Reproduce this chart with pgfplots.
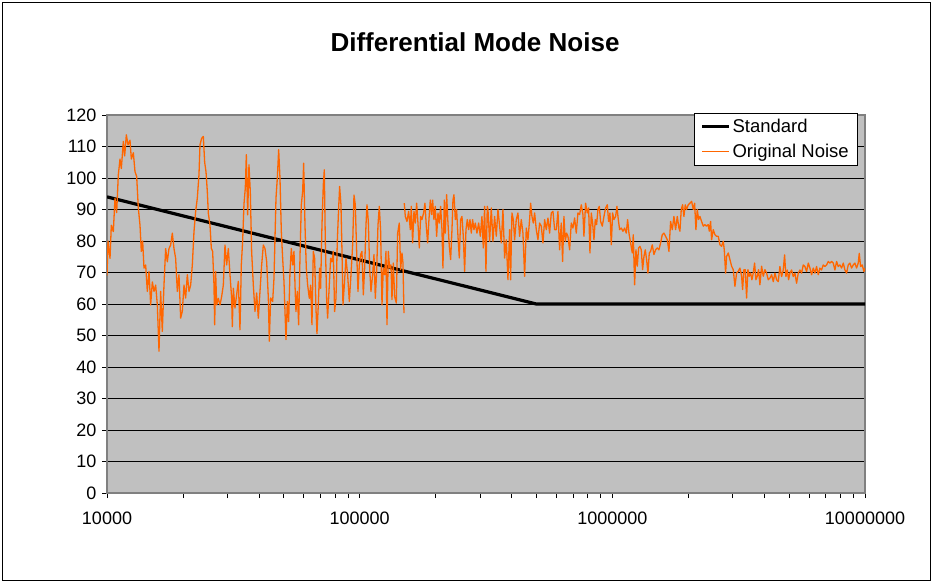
\documentclass[border=0pt]{standalone}
\usepackage{fontspec}
\setmainfont{Liberation Sans}
\usepackage{pgfplots}
\usepackage{pgfplotstable}
\pgfplotsset{compat=1.18}
\definecolor{noise}{HTML}{FF6600}
\definecolor{plotbg}{HTML}{C0C0C0}
\definecolor{axisgray}{HTML}{808080}

% log10(frequency in Hz), level
\pgfplotstableread{
lf val
4.0000 69
4.0039 80
4.0119 74.5
4.0171 85
4.0250 83
4.0316 93.6
4.0382 89
4.0448 101
4.0514 106
4.0567 103
4.0646 111.6
4.0699 107
4.0765 113.7
4.0831 110.5
4.0910 112
4.0963 106
4.1042 108
4.1108 102
4.1174 100.5
4.1240 90.4
4.1306 85
4.1358 76.7
4.1411 80
4.1464 71.4
4.1530 72.4
4.1596 64
4.1662 70.3
4.1728 59.7
4.1794 67
4.1860 64
4.1926 66
4.1992 59.7
4.2058 45
4.2123 64
4.2189 51.3
4.2255 66
4.2321 77.6
4.2387 73.4
4.2453 77.6
4.2519 78.7
4.2585 82.5
4.2651 77.6
4.2717 74.5
4.2783 64
4.2849 69.3
4.2915 55.5
4.2981 57.6
4.3047 66
4.3113 61.9
4.3179 69.3
4.3245 64
4.3311 66
4.3377 72.4
4.3443 83
4.3509 89.4
4.3574 93.6
4.3640 101
4.3680 110.5
4.3746 112.6
4.3812 113.2
4.3865 105
4.3918 102
4.3970 95.7
4.4010 88.8
4.4076 85
4.4129 77.7
4.4181 76.7
4.4234 66
4.4261 53.4
4.4300 70.3
4.4340 59.7
4.4406 61.8
4.4472 59.7
4.4538 62.4
4.4604 66
4.4670 78.7
4.4736 72.4
4.4802 77.6
4.4868 69.3
4.4934 61.8
4.4960 52.8
4.5000 65
4.5065 58.7
4.5131 62.9
4.5197 67.2
4.5263 51.8
4.5316 72.4
4.5369 80
4.5421 91.7
4.5474 96.8
4.5514 107.4
4.5567 88.3
4.5619 104.2
4.5672 95.7
4.5725 76.7
4.5791 66
4.5857 57.6
4.5923 63.5
4.5989 55.5
4.6055 64
4.6121 72.4
4.6187 78.7
4.6253 77.6
4.6319 73.4
4.6385 61.9
4.6424 48.2
4.6477 61.9
4.6556 60.8
4.6609 68.2
4.6688 93.6
4.6741 100
4.6794 109
4.6846 100
4.6899 83
4.6952 74.5
4.7005 67
4.7044 57.6
4.7084 48.7
4.7137 60.8
4.7189 54.4
4.7242 70.3
4.7295 77.6
4.7348 72.4
4.7400 76.7
4.7453 62.9
4.7479 57.6
4.7532 64
4.7585 53.4
4.7637 74.5
4.7690 91.5
4.7743 95.7
4.7783 104.7
4.7836 85
4.7888 71.4
4.7941 66
4.8007 61.8
4.8060 66
4.8112 53.4
4.8165 76.7
4.8218 74.5
4.8271 58.6
4.8310 50.6
4.8363 59.7
4.8416 71.4
4.8455 65
4.8508 85
4.8561 97.8
4.8600 102.6
4.8640 80
4.8693 61.8
4.8732 55.5
4.8798 66
4.8851 74.5
4.8904 73.4
4.8957 76.7
4.9009 57.6
4.9062 61.8
4.9115 80
4.9168 90.5
4.9207 97.3
4.9260 91.5
4.9300 76.7
4.9339 59.7
4.9392 66
4.9458 74.5
4.9524 69.3
4.9590 60.8
4.9656 69.3
4.9722 78.7
4.9775 94.6
4.9827 91.5
4.9880 76.7
4.9933 64
4.9986 72.4
5.0038 75.7
5.0091 76.7
5.0144 62.9
5.0197 71.4
5.0249 85
5.0289 91.5
5.0342 86.2
5.0395 71.4
5.0447 64
5.0513 69.3
5.0566 75.7
5.0619 61.8
5.0672 70.3
5.0724 85
5.0777 91
5.0830 83
5.0883 59.7
5.0935 71.4
5.0988 69.3
5.1041 76.7
5.1081 53.4
5.1133 76.7
5.1186 71.4
5.1239 72.4
5.1278 61.4
5.1331 73
5.1384 62.4
5.1450 60.3
5.1503 82.5
5.1568 85.7
5.1621 70.9
5.1674 76.2
5.1714 73
5.1753 57.1
}\noiseA

\pgfplotstableread{
lf val
5.1766 92
5.1806 87.8
5.1872 86.2
5.1938 89.4
5.2004 83.6
5.2043 91
5.2096 79.4
5.2149 89.4
5.2202 85.7
5.2254 92
5.2307 85.7
5.2360 77.8
5.2413 87.8
5.2465 86.8
5.2531 88.9
5.2584 92
5.2637 84.7
5.2690 79.4
5.2742 86.8
5.2795 93
5.2848 88.4
5.2888 93
5.2940 86.8
5.2993 91
5.3046 81.5
5.3099 88.9
5.3151 85.7
5.3204 91
5.3257 83.6
5.3296 71.4
5.3349 93
5.3389 82.5
5.3442 94.7
5.3494 85.7
5.3547 78.3
5.3600 74.1
5.3653 83.6
5.3692 93
5.3732 94.7
5.3785 86.8
5.3837 90
5.3890 81.5
5.3943 74.6
5.3996 86.8
5.4048 87.8
5.4101 81.5
5.4154 70.4
5.4207 83.6
5.4259 86.8
5.4312 83.6
5.4365 86.8
5.4418 82.5
5.4470 86.8
5.4523 83.6
5.4576 85.7
5.4642 82.5
5.4708 85.7
5.4774 81.5
5.4840 87.8
5.4893 77.8
5.4945 91
5.4998 70.4
5.5051 91
5.5077 90
5.5143 79.9
5.5209 90.5
5.5275 79.9
5.5341 87.8
5.5407 81.5
5.5473 90
5.5539 84.7
5.5605 79.4
5.5671 90
5.5737 74.6
5.5803 80.4
5.5869 67.7
5.5935 83.6
5.5974 67.7
5.6027 88.9
5.6080 86.8
5.6133 80.4
5.6198 86.8
5.6264 88.9
5.6330 81.5
5.6396 86.8
5.6462 82.5
5.6528 68.8
5.6594 84.1
5.6660 80.4
5.6726 86.8
5.6766 92
5.6818 87.8
5.6871 85.7
5.6924 88.9
5.6990 83.6
5.7056 80.4
5.7122 85.7
5.7188 84.7
5.7254 79.4
5.7320 86.8
5.7386 83.6
5.7452 87.3
5.7518 82.5
5.7584 88.9
5.7650 89.4
5.7716 83.6
5.7782 83.6
5.7848 89.4
5.7913 77.2
5.7979 85.7
5.8032 73.5
5.8085 87.8
5.8138 79.9
5.8190 82.5
5.8243 81.5
5.8309 77.2
5.8375 85.7
5.8441 84.1
5.8507 87.3
5.8573 82.5
5.8639 88.9
5.8705 88.4
5.8771 91.5
5.8837 88.4
5.8876 81.5
5.8942 92
5.9008 88.9
5.9061 90.5
5.9114 76.2
5.9166 88.9
5.9219 85.7
5.9272 80.4
5.9325 86.8
5.9377 85.2
5.9430 90
5.9483 91
5.9536 86.2
5.9602 84.7
5.9668 87.8
5.9734 90.5
5.9800 91.5
5.9852 86.2
5.9905 88.9
5.9958 78.8
6.0011 88.9
6.0063 86.8
6.0129 87.8
6.0182 91
6.0235 86.8
6.0288 83.6
6.0354 84.1
6.0420 83.1
6.0486 84.1
6.0552 82.5
6.0604 86.8
6.0657 82.5
6.0723 79.4
6.0789 76.2
6.0828 82
6.0881 66.1
6.0934 77.2
6.0987 72
6.1040 77.8
6.1092 78.3
6.1145 77.2
6.1198 70.9
6.1251 75.1
6.1303 77.2
6.1356 74.1
6.1409 69.8
6.1462 76.2
6.1514 76.7
6.1580 78.8
6.1646 75.7
6.1712 77.2
6.1778 77.8
6.1844 77.2
6.1910 79.4
6.1976 82
6.2042 82.5
6.2108 81.5
6.2174 80.4
6.2240 76.7
6.2306 86.2
6.2372 83.6
6.2438 87.8
6.2504 83.6
6.2570 87.8
6.2636 84.1
6.2675 83.1
6.2728 90
6.2781 91.5
6.2833 87.8
6.2886 91.5
6.2939 90
6.3005 91.5
6.3071 92
6.3137 92.6
6.3203 90
6.3256 92
6.3308 83.6
6.3361 90
6.3414 86.8
6.3467 87.8
6.3533 86.2
6.3599 84.7
6.3664 85.2
6.3730 84.7
6.3796 85.2
6.3836 83.1
6.3889 86.2
6.3928 80.4
6.3994 83.6
6.4060 82
6.4126 81.5
6.4192 81.5
6.4258 78.8
6.4324 78.3
6.4390 79.9
6.4430 77.2
6.4482 69.8
6.4522 75.1
6.4588 76.2
6.4654 74.1
6.4720 72
6.4786 70.9
6.4852 65.6
6.4918 69.8
6.4984 70.4
6.5050 71.4
6.5116 68.8
6.5155 64.6
6.5208 70.9
6.5261 70.9
6.5313 61.9
6.5366 70.9
6.5419 68.8
6.5472 69.8
6.5524 67.7
6.5577 69.8
6.5630 73
6.5683 67.7
6.5735 68.8
6.5788 70.9
6.5841 66.1
6.5907 72
6.5973 68.8
6.6039 70.9
6.6105 69.8
6.6171 67.7
6.6237 68.2
6.6303 69.3
6.6369 67.1
6.6435 69.8
6.6500 67.7
6.6566 67.1
6.6632 71.9
6.6698 68.7
6.6764 70.8
6.6817 75.6
6.6870 68.7
6.6923 70.8
6.6975 67.7
6.7028 69.8
6.7094 70.8
6.7160 68.7
6.7226 69.8
6.7292 66.6
6.7358 69.8
6.7424 70.8
6.7490 69.8
6.7556 72.4
6.7622 71.9
6.7688 70.3
6.7754 73
6.7820 71.4
6.7886 69.3
6.7952 71.4
6.8018 69.8
6.8083 71.9
6.8149 69.3
6.8215 71.4
6.8281 70.8
6.8347 72.4
6.8413 71.9
6.8479 72.4
6.8545 73.5
6.8611 73
6.8677 73.5
6.8743 73
6.8809 70.8
6.8875 73.5
6.8941 71.9
6.9007 72.4
6.9073 71.4
6.9139 73
6.9205 70.8
6.9270 69.8
6.9336 72.4
6.9402 73
6.9468 71.4
6.9534 72.4
6.9600 73
6.9666 71.4
6.9732 73
6.9772 76.1
6.9825 71.9
6.9891 72.4
6.9957 70.3
7.0000 71.4
}\noiseB

\begin{document}
\begin{tikzpicture}
\path[use as bounding box] (-107pt,-90pt) rectangle (826pt,493pt);
\draw[black, line width=1pt] (-104.5pt,-87.5pt) rectangle (823.5pt,490.5pt);
\begin{axis}[
  at={(0pt,0pt)}, anchor=south west,
  scale only axis, width=758pt, height=378pt,
  xmode=log, xmin=1e4, xmax=1e7, ymin=0, ymax=120,
  ytick={0,10,...,120},
  xtick={1e4,1e5,1e6,1e7},
  xticklabels={10000,100000,1000000,10000000},
  minor xtick={2e4,3e4,4e4,5e4,6e4,7e4,8e4,9e4,2e5,3e5,4e5,5e5,6e5,7e5,8e5,9e5,2e6,3e6,4e6,5e6,6e6,7e6,8e6,9e6},
  /pgf/number format/assume math mode=true,
  axis background/.style={fill=plotbg},
  ymajorgrids, major grid style={black, line width=0.9pt},
  tick align=outside, tick pos=left,
  tick style={black, line width=0.9pt},
  major tick length=5pt, minor tick length=5pt,
  axis line style={axisgray, line width=1.5pt},
  ticklabel style={font=\fontsize{18}{20}\selectfont},
  xticklabel style={anchor=base, yshift=-26pt},
  yticklabel style={anchor=east, xshift=-2pt},
  title={Differential Mode Noise},
  title style={at={(0.4855,1)}, anchor=base, yshift=57pt, font=\bfseries\fontsize{26}{30}\selectfont},
  legend style={at={(0.9894,1.005)}, anchor=north east, draw=black, fill=white,
    font=\fontsize{18.5}{22}\selectfont, inner xsep=6pt, inner ysep=4pt, row sep=6pt},
  legend cell align=left,
  legend image code/.code={\draw[#1] (0pt,0pt) -- (27pt,0pt);},
]
\addplot[black, line width=3.2pt] coordinates {(1e4,94) (5e5,60) (1e7,60)};
\addlegendentry{Standard}
\addplot[noise, line width=1.3pt, line join=round] table[x expr=10^\thisrow{lf}, y=val] {\noiseA};
\addlegendentry{Original Noise}
\addplot[noise, line width=1.3pt, line join=round, forget plot] table[x expr=10^\thisrow{lf}, y=val] {\noiseB};
\end{axis}
\end{tikzpicture}
\end{document}
